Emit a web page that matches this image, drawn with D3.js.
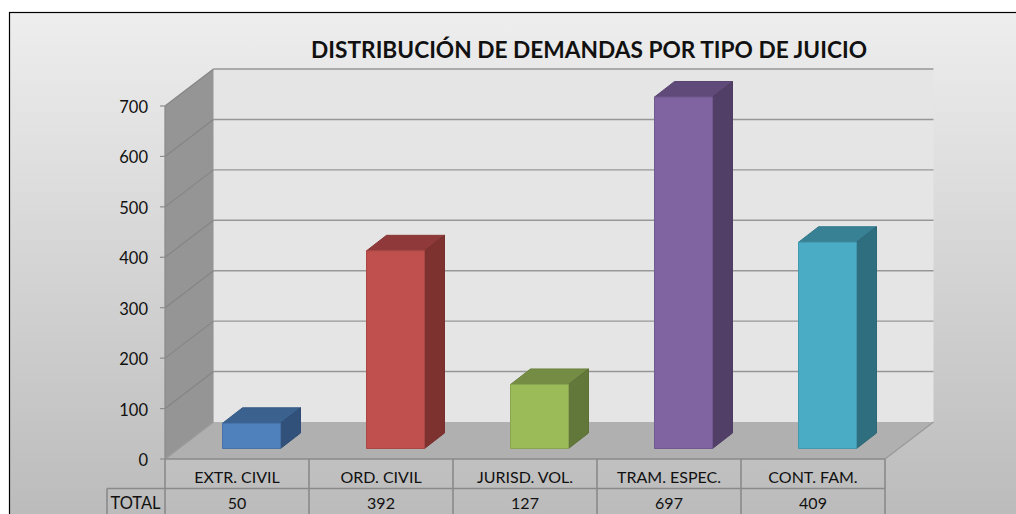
<!DOCTYPE html>
<html><head><meta charset="utf-8">
<style>html,body{margin:0;padding:0;background:#fff}svg{display:block}text{font-family:Lato,"Open Sans",sans-serif;fill:#111}</style>
<script src="https://cdn.jsdelivr.net/npm/d3@7"></script></head><body><svg id="c" width="1016" height="514"></svg>
<script>
const categories=["EXTR. CIVIL","ORD. CIVIL","JURISD. VOL.","TRAM. ESPEC.","CONT. FAM."];
const totals=[50,392,127,697,409];
const yTicks=[0,100,200,300,400,500,600,700];
const frontColors=["#4f81bd","#c0504d","#9bbb59","#8064a2","#4bacc6"];
const topColors=["#3b618e","#90393a","#748c43","#604a79","#388195"];
const sideColors=["#31507a","#7e3230","#62773a","#523f68","#2f6e7e"];
const titleText="DISTRIBUCIÓN DE DEMANDAS POR TIPO DE JUICIO";
const W=1016,H=514,dx=48.5,dy=-37,bdx=20,bdy=-15.5;
const svg=d3.select("#c");
const defs=svg.append("defs");
const g=defs.append("linearGradient").attr("id","bg").attr("x1",0).attr("y1",0).attr("x2",0).attr("y2",1);
g.append("stop").attr("offset",0).attr("stop-color","#eeeeee");
g.append("stop").attr("offset",1).attr("stop-color","#bababa");
svg.append("rect").attr("x",9.5).attr("y",12.5).attr("width",W).attr("height",H).attr("fill","url(#bg)").attr("stroke","#000").attr("stroke-width",1.2);
const x=d3.scaleBand().domain(categories).range([165,885]);
const y=d3.scaleLinear().domain([0,700]).range([459,106]);
const poly=(pts,f,s)=>svg.append("polygon").attr("points",pts.map(p=>p.join(",")).join(" ")).attr("fill",f).attr("stroke",s||"none");
const L=165,R=885,Y0=y(0),YT=y(700);
// walls
poly([[L+dx,YT+dy],[R+dx,YT+dy],[R+dx,Y0+dy],[L+dx,Y0+dy]],"#e5e5e5");
poly([[L,YT],[L+dx,YT+dy],[L+dx,Y0+dy],[L,Y0]],"#959595");
poly([[L,Y0],[L+dx,Y0+dy],[R+dx,Y0+dy],[R,Y0]],"#b0b0b0");
const line=(a,b,c,w)=>svg.append("line").attr("x1",a[0]).attr("y1",a[1]).attr("x2",b[0]).attr("y2",b[1]).attr("stroke",c).attr("stroke-width",w);
yTicks.forEach(t=>{
  if(t>0)line([L+dx,y(t)+dy],[R+dx,y(t)+dy],"#979797",1.4);
  if(t>0)line([L,y(t)],[L+dx,y(t)+dy],"#858585",1.2);
  line([L-5,y(t)],[L,y(t)],"#8c8c8c",1.2);
  svg.append("text").attr("x",L-17).attr("y",y(t)+7).attr("text-anchor","end").attr("font-size",16.5).text(t);
});
line([L,YT],[L,Y0],"#8c8c8c",1.3);
line([L,Y0],[L+dx,Y0+dy],"#9a9a9a",1.3);
line([R,Y0],[R+dx,Y0+dy],"#9a9a9a",1.3);
// bars
const barW=58,base=448.5,barShift=14.5;
categories.forEach((c,i)=>{
  const x0=x(c)+(x.bandwidth()-barW)/2+barShift,x1=x0+barW,top=base-(y(0)-y(totals[i]));
  poly([[x0,top],[x0+bdx,top+bdy],[x1+bdx,top+bdy],[x1,top]],topColors[i],d3.color(topColors[i]).darker(.15));
  poly([[x1,top],[x1+bdx,top+bdy],[x1+bdx,base+bdy],[x1,base]],sideColors[i],d3.color(sideColors[i]).darker(.15));
  poly([[x0,top],[x1,top],[x1,base],[x0,base]],frontColors[i],d3.color(frontColors[i]).darker(.35));
});
// data table
const tc="#8a8a8a";
line([L,Y0],[R,Y0],tc,1.6);
line([107,488.5],[R,488.5],tc,1.6);
line([107,488.5],[107,H],tc,1.6);
d3.range(6).forEach(i=>line([L+i*x.bandwidth(),Y0],[L+i*x.bandwidth(),H],tc,1.6));
categories.forEach((c,i)=>{
  const cx=x(c)+x.bandwidth()/2;
  svg.append("text").attr("x",cx).attr("y",482.5).attr("text-anchor","middle").attr("font-size",16).text(c);
  svg.append("text").attr("x",cx).attr("y",508.5).attr("text-anchor","middle").attr("font-size",16).text(totals[i]);
});
svg.append("text").attr("x",135.5).attr("y",508.5).attr("text-anchor","middle").attr("font-size",16.5).text("TOTAL");
svg.append("text").attr("x",589).attr("y",58).attr("text-anchor","middle").attr("font-size",22.7).attr("font-weight",700).text(titleText);
</script></body></html>
